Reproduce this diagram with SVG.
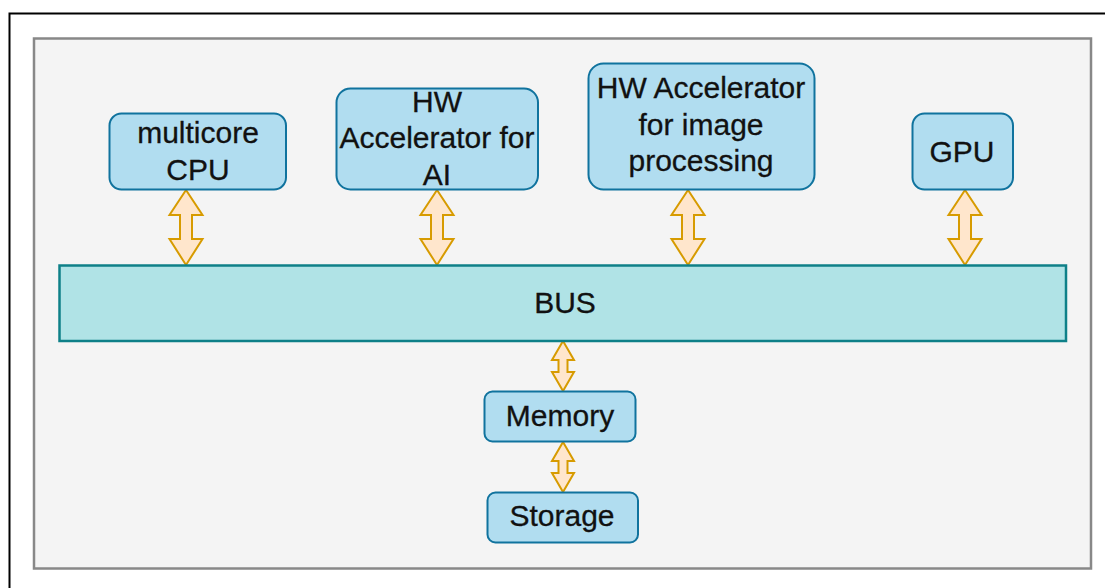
<svg xmlns="http://www.w3.org/2000/svg" width="1105" height="588" viewBox="0 0 1105 588">
<style>
.node{fill:#b1ddf0;stroke:#10739e;stroke-width:2}
.bus{fill:#b0e3e6;stroke:#0e8088;stroke-width:2.5}
.arr{fill:#ffe6cc;stroke:#d79b00;stroke-width:2;stroke-linejoin:miter}
text{font-family:"Liberation Sans",Arial,Helvetica,sans-serif;font-size:30px;fill:#111;text-anchor:middle;stroke:#111;stroke-width:0.3}
</style>
<rect x="0" y="0" width="1105" height="588" fill="#ffffff"/>
<rect x="9.5" y="13.5" width="1110" height="600" fill="none" stroke="#000" stroke-width="2"/>
<rect x="34" y="38.5" width="1057" height="530" fill="#f4f4f4" stroke="#888" stroke-width="2.5"/>
<g id="connectors">
<path class="arr" d="M186,190 L202.5,215 L192,215 L192,239 L202.5,239 L186,265 L169.5,239 L180,239 L180,215 L169.5,215 Z"/>
<path class="arr" d="M437,190 L453.5,215 L443,215 L443,239 L453.5,239 L437,265 L420.5,239 L431,239 L431,215 L420.5,215 Z"/>
<path class="arr" d="M688,190 L704.5,215 L694,215 L694,239 L704.5,239 L688,265 L671.5,239 L682,239 L682,215 L671.5,215 Z"/>
<path class="arr" d="M965,190 L981.5,215 L971,215 L971,239 L981.5,239 L965,265 L948.5,239 L959,239 L959,215 L948.5,215 Z"/>
<path class="arr" d="M563,341 L574,360 L567.5,360 L567.5,372 L574,372 L563,391 L552,372 L558.5,372 L558.5,360 L552,360 Z"/>
<path class="arr" d="M563,442 L574,461 L567.5,461 L567.5,473 L574,473 L563,492 L552,473 L558.5,473 L558.5,461 L552,461 Z"/>
</g>
<g id="bus">
<rect class="bus" x="59.5" y="265.5" width="1006.5" height="75.5"/>
<text x="565" y="313">BUS</text>
</g>
<g id="cpu">
<rect class="node" x="109.5" y="113.5" width="176.5" height="76" rx="12"/>
<text x="198" y="143">multicore</text>
<text x="198" y="180">CPU</text>
</g>
<g id="hw-ai">
<rect class="node" x="336.5" y="88.5" width="201.5" height="101" rx="14"/>
<text x="437" y="112">HW</text>
<text x="437" y="148">Accelerator for</text>
<text x="437" y="185">AI</text>
</g>
<g id="hw-image">
<rect class="node" x="588.5" y="63.5" width="226" height="126" rx="15"/>
<text x="701" y="98">HW Accelerator</text>
<text x="701" y="135">for image</text>
<text x="701" y="171">processing</text>
</g>
<g id="gpu">
<rect class="node" x="912.5" y="113.5" width="100.5" height="76" rx="12"/>
<text x="962" y="162">GPU</text>
</g>
<g id="memory">
<rect class="node" x="484.5" y="391.5" width="151" height="50" rx="8"/>
<text x="560" y="426">Memory</text>
</g>
<g id="storage">
<rect class="node" x="487.5" y="492.5" width="150.5" height="50" rx="8"/>
<text x="562" y="526">Storage</text>
</g>
</svg>
